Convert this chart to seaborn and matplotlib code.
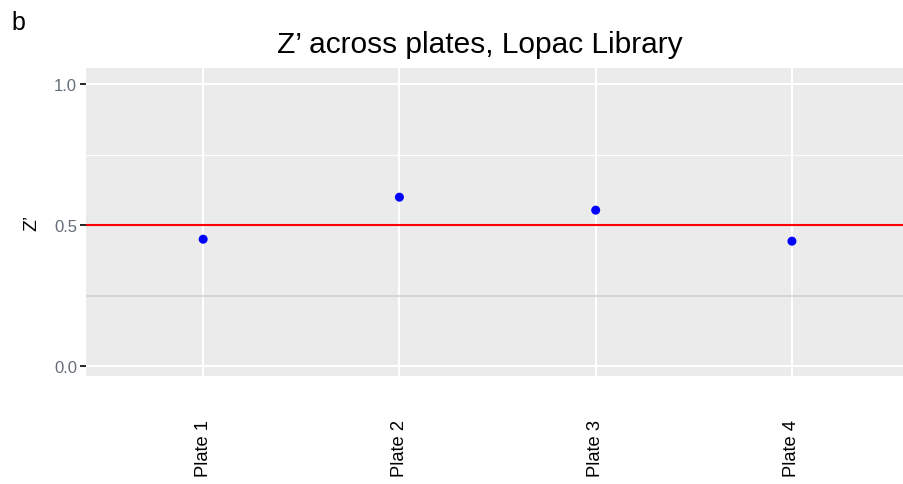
import matplotlib
matplotlib.use("Agg")
import matplotlib.pyplot as plt
import seaborn as sns
import pandas as pd

plates = ["Plate 1", "Plate 2", "Plate 3", "Plate 4"]
zprime = [0.450, 0.599, 0.553, 0.443]
threshold = 0.5
ref_line = 0.25
yticks = [0.0, 0.5, 1.0]
ytick_labels = ["0.0", "0.5", "1.0"]

sns.set_theme(style="white")
plt.rcParams["font.family"] = ["Liberation Sans", "DejaVu Sans"]

df = pd.DataFrame({"plate": plates, "z": zprime})

fig = plt.figure(figsize=(9.04, 4.85), dpi=100)
ax = fig.add_axes([86/904, 108/485, 1 - 86/904, 308/485])
ax.set_facecolor("#EBEBEB")
for s in ax.spines.values():
    s.set_visible(False)

ax.set_xlim(-0.597, 3.571)
ax.set_ylim(-0.035, 1.057)

# grid
ax.axhline(0.75, color="white", lw=0.8, zorder=0.5)
for v in yticks:
    ax.axhline(v, color="white", lw=1.5, zorder=0.6)
for i in range(len(plates)):
    ax.axvline(i, color="white", lw=1.5, zorder=0.6)

ax.axhline(ref_line, color="#D3D3D3", lw=1.3, zorder=1)
ax.axhline(threshold, color="#FF0000", lw=1.5, zorder=1.5)

sns.scatterplot(data=df, x="plate", y="z", ax=ax, color="#0000FF",
                s=42, edgecolor="none", zorder=3)

ax.set_xticks(range(len(plates)))
ax.set_xticklabels(plates, rotation=90, fontsize=13.2, color="black")
ax.tick_params(axis="x", length=0, pad=31)
ax.set_yticks(yticks)
ax.set_yticklabels(ytick_labels, fontsize=12, color="#646D78")
ax.tick_params(axis="y", length=4.5, width=1.2, color="black", pad=2, left=True)
ax.set_xlabel("")
ax.set_ylabel("Z’", fontsize=14, color="black")
ax.yaxis.set_label_coords(-0.056, 0.5)

fig.text(480/904, 1 - 45/485, "Z’ across plates, Lopac Library",
         ha="center", va="center", fontsize=21.5, color="black")
fig.text(11/904, 1 - 23/485, "b", ha="left", va="center", fontsize=18, color="black")

fig.savefig("out.png", dpi=100)
